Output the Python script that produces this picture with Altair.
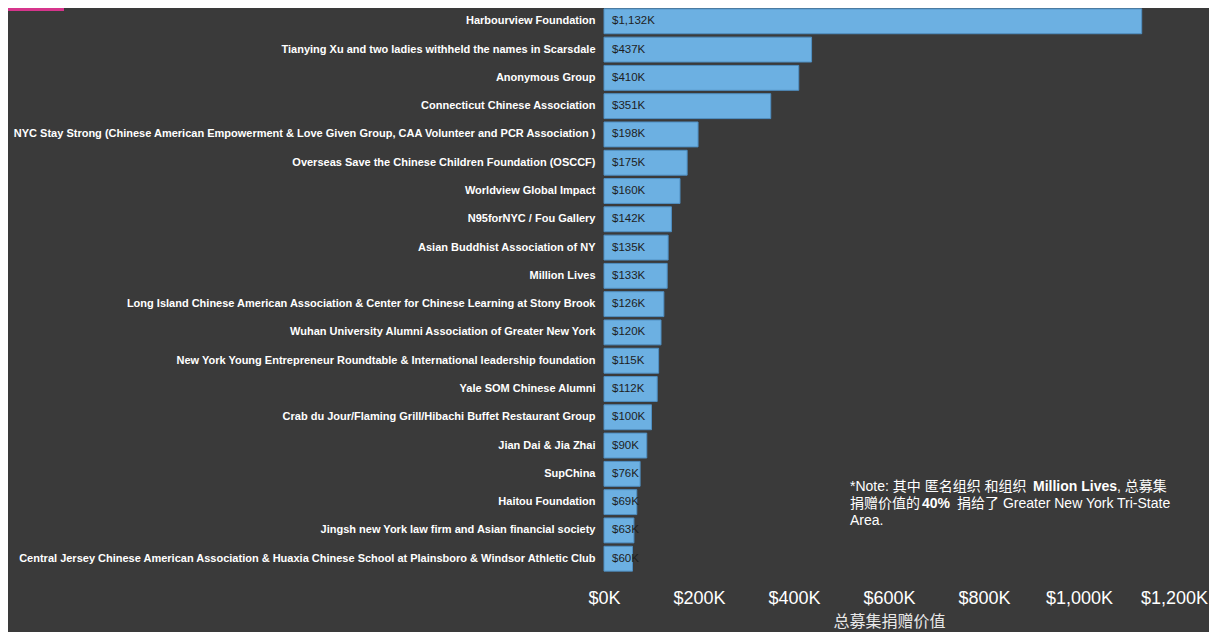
import altair as alt
import pandas as pd

names = [
    "Harbourview Foundation",
    "Tianying Xu and two ladies withheld the names in Scarsdale",
    "Anonymous Group",
    "Connecticut Chinese Association",
    "NYC Stay Strong (Chinese American Empowerment & Love Given Group, CAA Volunteer and PCR Association )",
    "Overseas Save the Chinese Children Foundation (OSCCF)",
    "Worldview Global Impact",
    "N95forNYC / Fou Gallery",
    "Asian Buddhist Association of NY",
    "Million Lives",
    "Long Island Chinese American Association & Center for Chinese Learning at Stony Brook",
    "Wuhan University Alumni Association of Greater New York",
    "New York Young Entrepreneur Roundtable & International leadership foundation",
    "Yale SOM Chinese Alumni",
    "Crab du Jour/Flaming Grill/Hibachi Buffet Restaurant Group",
    "Jian Dai & Jia Zhai",
    "SupChina",
    "Haitou Foundation",
    "Jingsh new York law firm and Asian financial society",
    "Central Jersey Chinese American Association & Huaxia Chinese School at Plainsboro & Windsor Athletic Club",
]
values_k = [1132, 437, 410, 351, 198, 175, 160, 142, 135, 133,
            126, 120, 115, 112, 100, 90, 76, 69, 63, 60]

df = pd.DataFrame({"name": names, "value": values_k})
df["label"] = ["$" + format(v, ",") + "K" for v in values_k]

BG = "#3a3a3a"
BAR = "#6cb0e2"
FONT = "Liberation Sans, Arial, Noto Sans CJK SC"

y_enc = alt.Y("name:N", sort=names, title=None,
              scale=alt.Scale(paddingInner=0.12, paddingOuter=0.03),
              axis=alt.Axis(labelColor="#ffffff", labelFontSize=11, labelFontWeight="bold",
                            labelFont=FONT, labelLimit=1000, labelPadding=9,
                            ticks=False, domain=False, grid=False))

x_enc = alt.X("value:Q", title="总募集捐赠价值",
              scale=alt.Scale(domain=[0, 1200], nice=False),
              axis=alt.Axis(values=[0, 200, 400, 600, 800, 1000, 1200],
                            labelExpr="'$' + format(datum.value, ',') + 'K'",
                            labelColor="#ffffff", labelFontSize=18, labelFont=FONT,
                            labelPadding=17, labelFlush=False,
                            titleColor="#e8e8e8", titleFontSize=16, titleFont="Noto Sans CJK SC",
                            titleFontWeight="normal", titlePadding=6,
                            ticks=False, domain=False, grid=False))

bars = alt.Chart(df).mark_bar(color=BAR, stroke="#4f8fc2", strokeWidth=1).encode(x=x_enc, y=y_enc)

labels = alt.Chart(df).mark_text(align="left", baseline="middle", dx=8, fontSize=11.5,
                                 font=FONT, color="#1e1e1e").encode(
    x=alt.datum(0), y=alt.Y("name:N", sort=names), text="label:N")

def seg(text, x, y, bold=False):
    return alt.Chart(alt.Data(values=[{}])).mark_text(
        align="left", baseline="middle", fontSize=14, font=FONT,
        fontWeight="bold" if bold else "normal", color="#ffffff").encode(
        x=alt.value(x), y=alt.value(y), text=alt.value(text))

note = [
    seg("*Note: 其中 匿名组织 和组织", 246, 479),
    seg("Million Lives", 429, 479, True),
    seg(", 总募集", 513, 479),
    seg("捐赠价值的", 246, 496),
    seg("40%", 318, 496, True),
    seg("捐给了 Greater New York Tri-State", 353, 496),
    seg("Area.", 246, 513),
]

logo = alt.Chart(alt.Data(values=[{}])).mark_rect(color="#d6358c").encode(
    x=alt.value(-596), x2=alt.value(-540), y=alt.value(0), y2=alt.value(3))

chart = alt.layer(bars, labels, logo, *note).properties(
    width=570, height=564,
    autosize=alt.AutoSizeParams(type="none"),
    padding={"left": 596, "top": 0, "right": 35, "bottom": 60},
    background=BG,
).configure_view(stroke=None)

chart.save("out.html", embed_options={"renderer": "svg", "actions": False})
